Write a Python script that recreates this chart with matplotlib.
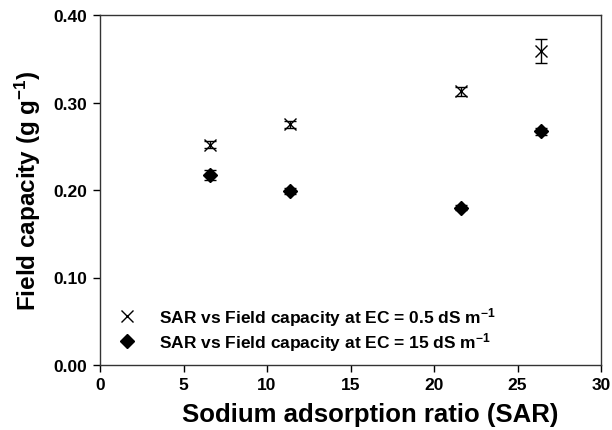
import matplotlib
matplotlib.use("Agg")
import matplotlib.pyplot as plt

plt.rcParams['font.family'] = ['Liberation Sans', 'DejaVu Sans']
plt.rcParams['mathtext.fontset'] = 'custom'
plt.rcParams['mathtext.rm'] = 'Liberation Sans:bold'
plt.rcParams['mathtext.bf'] = 'Liberation Sans:bold'
plt.rcParams['mathtext.default'] = 'bf'

sar = [6.6, 11.4, 21.6, 26.4]
fc_low = [0.252, 0.275, 0.313, 0.359]
err_low = [0.004, 0.004, 0.005, 0.014]
fc_high = [0.217, 0.199, 0.180, 0.267]
err_high = [0.006, 0.003, 0.003, 0.004]

xticks = [0, 5, 10, 15, 20, 25, 30]
yticks = [0.0, 0.1, 0.2, 0.3, 0.4]

fig = plt.figure(figsize=(6.12, 4.31), dpi=100)
ax = fig.add_axes([100 / 612, 65 / 431, 501 / 612, 350 / 431])

ax.errorbar(sar, fc_low, yerr=err_low, fmt='x', color='black', ms=8.5, mew=1.0,
            ecolor='black', elinewidth=1, capsize=4,
            label='SAR vs Field capacity at EC = 0.5 dS m$^{-1}$')
ax.errorbar(sar, fc_high, yerr=err_high, fmt='D', color='black', ms=7,
            ecolor='black', elinewidth=1, capsize=4,
            label='SAR vs Field capacity at EC = 15 dS m$^{-1}$')

ax.set_xlim(0, 30)
ax.set_ylim(0, 0.4)
ax.set_xticks(xticks)
ax.set_yticks(yticks)
ax.set_yticklabels([f'{v:.2f}' for v in yticks])
ax.tick_params(direction='out', length=5, width=1, labelsize=12.5, pad=4)
for lbl in ax.get_xticklabels() + ax.get_yticklabels():
    lbl.set_fontweight('bold')
for s in ax.spines.values():
    s.set_linewidth(1)
    s.set_color('#333333')

ax.set_xlabel('Sodium adsorption ratio (SAR)', fontsize=18.5, fontweight='bold')
ax.xaxis.set_label_coords(0.54, -0.105)
ax.set_ylabel('Field capacity (g g$^{-1}$)', fontsize=17.5, fontweight='bold', labelpad=8)

handles, labels = ax.get_legend_handles_labels()
handles = [h[0] for h in handles]
leg = ax.legend(handles, labels, loc='lower left', frameon=False,
                prop={'weight': 'bold', 'size': 12.5}, handletextpad=0.8,
                handlelength=2.0, borderpad=0, borderaxespad=0,
                bbox_to_anchor=(0.02, 0.035), labelspacing=0.1)

fig.savefig('out.png', dpi=100)
